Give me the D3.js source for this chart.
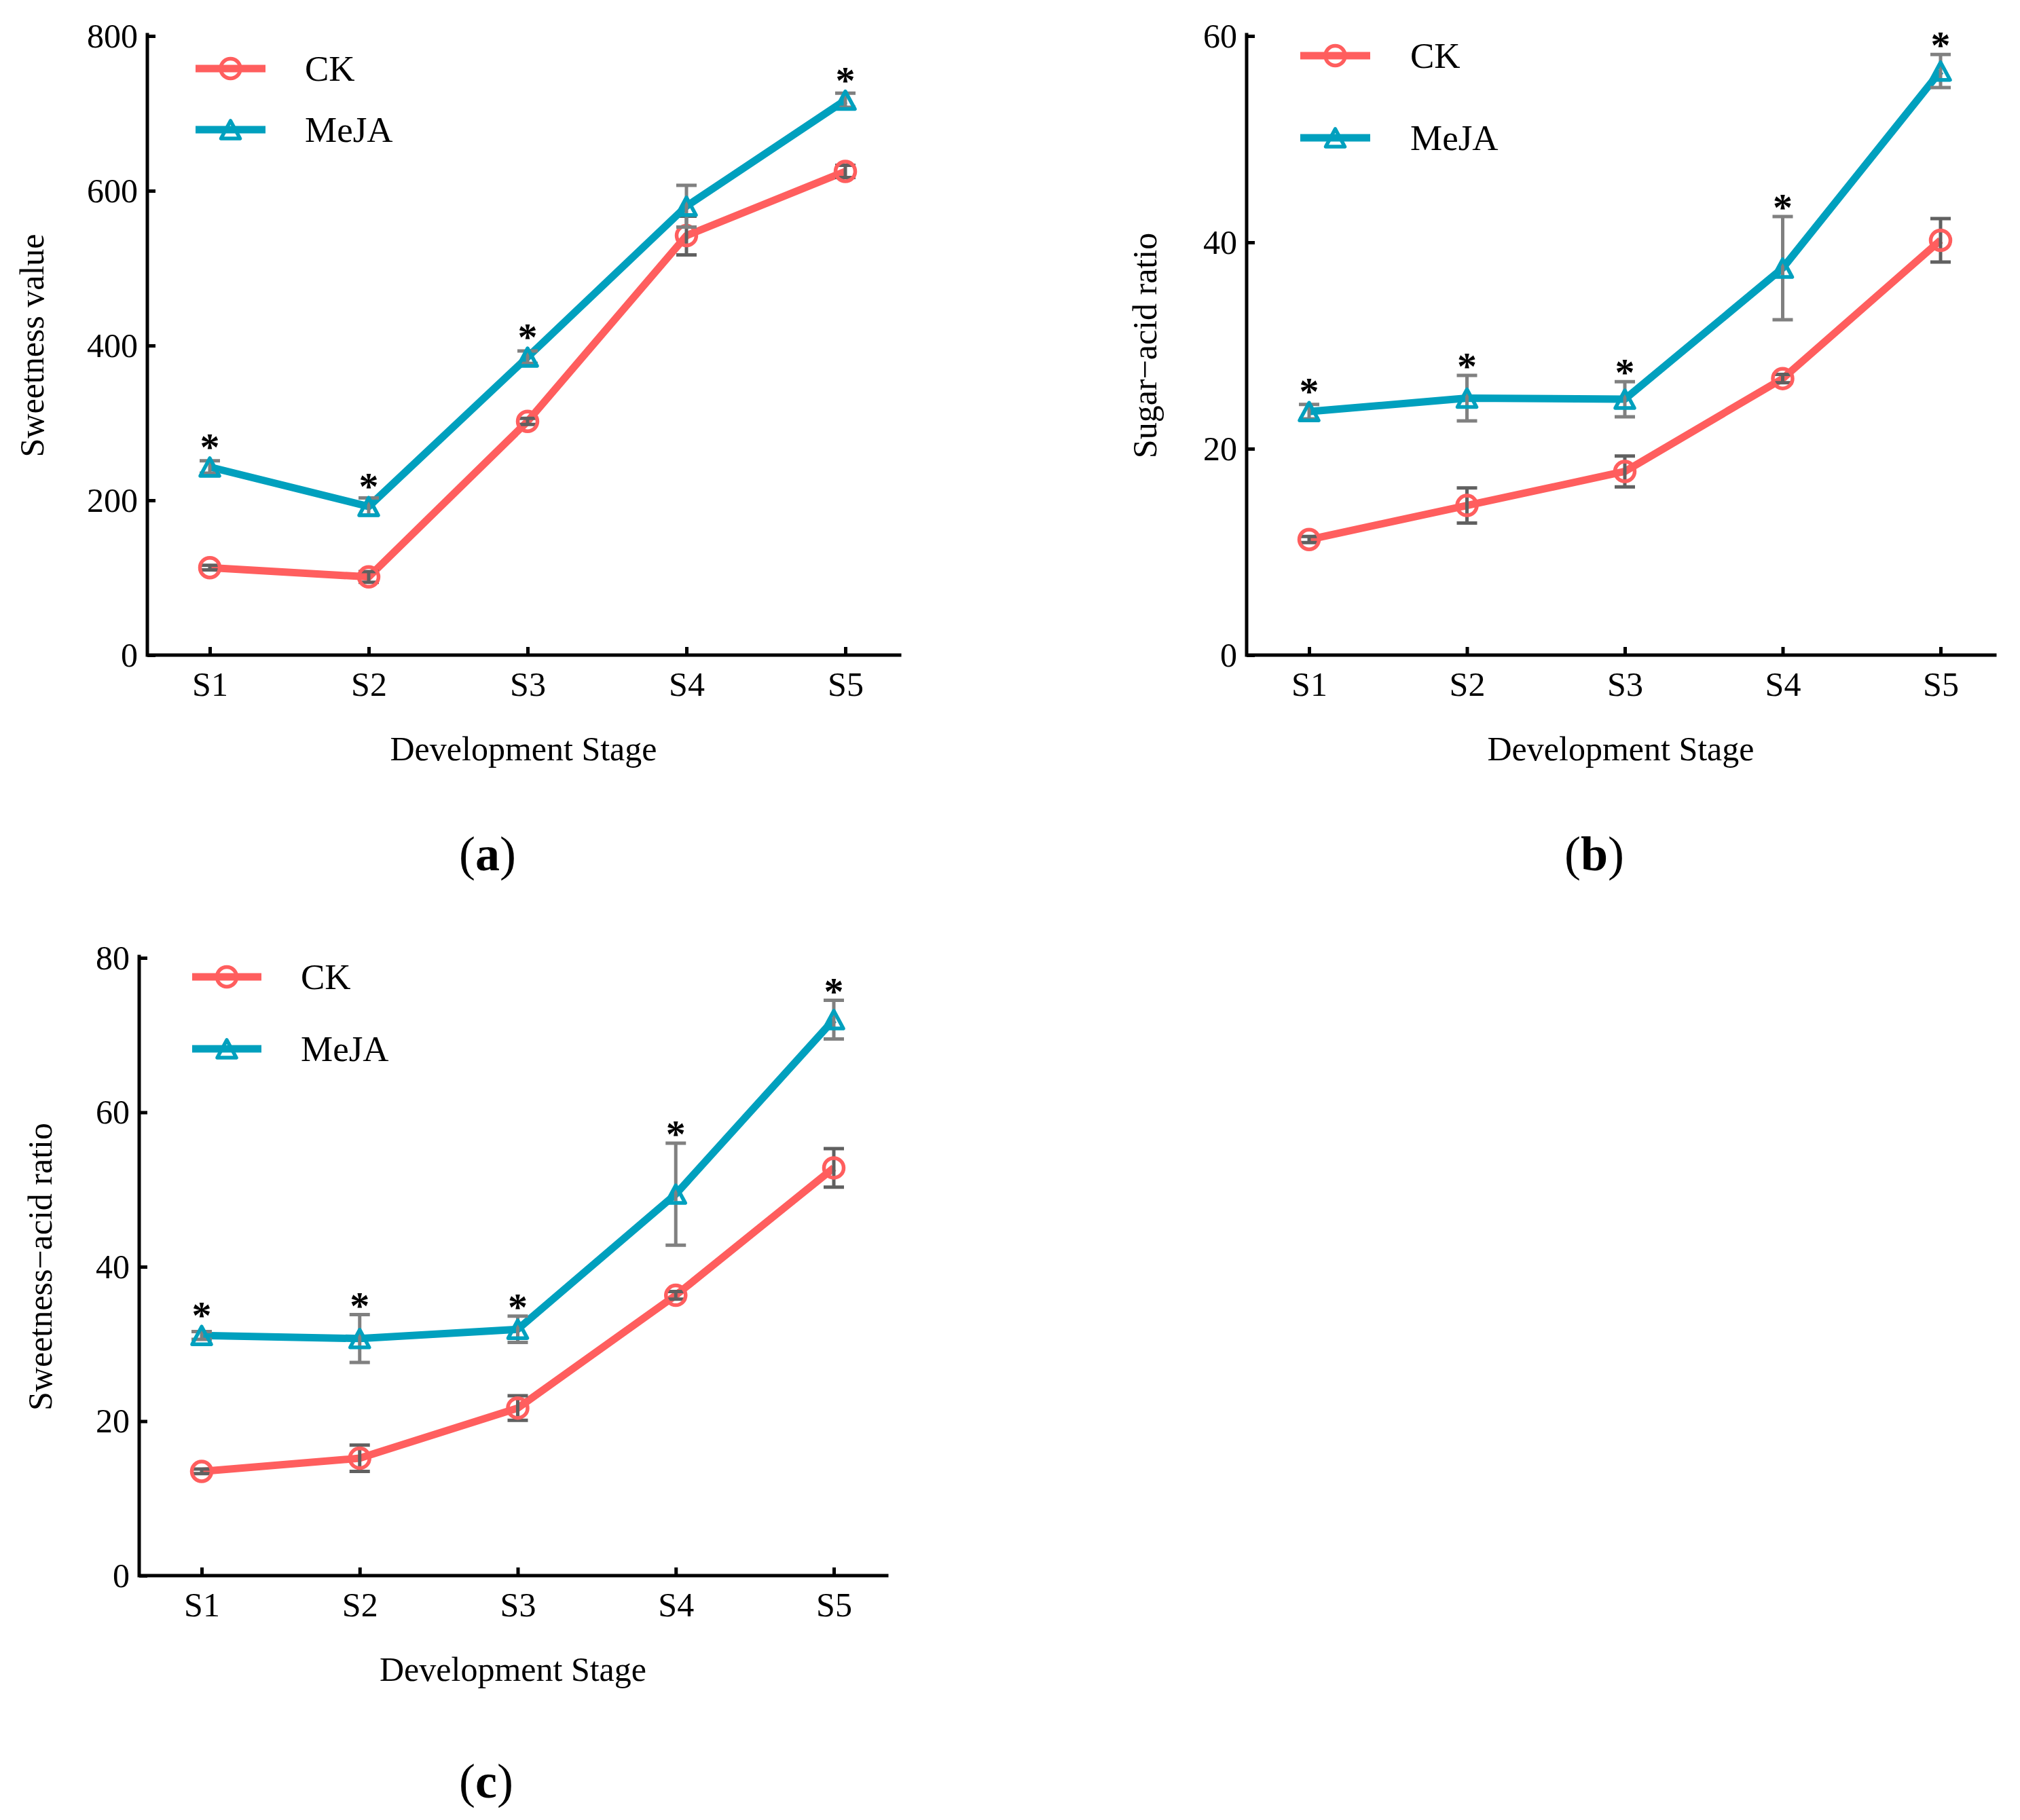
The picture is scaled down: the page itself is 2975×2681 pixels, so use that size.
<!DOCTYPE html>
<html>
<head>
<meta charset="utf-8">
<script src="https://cdn.jsdelivr.net/npm/d3@7"></script>
<style>
  html, body { margin: 0; padding: 0; background: #fff; }
  svg { display: block; }
</style>
</head>
<body>
<svg id="chart" width="2975" height="2681"></svg>
<script>
// 数据
var stages = ['S1', 'S2', 'S3', 'S4', 'S5'];
var seriesNames = ['CK', 'MeJA'];

// (a) Sweetness value
var sweetCK = [113, 101, 302, 542, 625];
var sweetCKErr = [3, 7, 4, 25, 8];
var sweetMeJA = [243, 192, 385, 580, 717];
var sweetMeJAErr = [8, 11, 8, 27, 9];
var sweetSig = [1, 1, 1, 0, 1];
var sweetTicks = [0, 200, 400, 600, 800];

// (b) Sugar-acid ratio
var sugarCK = [11.2, 14.5, 17.8, 26.8, 40.2];
var sugarCKErr = [0.3, 1.7, 1.5, 0.4, 2.1];
var sugarMeJA = [23.6, 24.9, 24.8, 37.5, 56.6];
var sugarMeJAErr = [0.7, 2.2, 1.7, 5.0, 1.6];
var sugarSig = [1, 1, 1, 1, 1];
var sugarTicks = [0, 20, 40, 60];

// (c) Sweetness-acid ratio
var swAcidCK = [13.5, 15.2, 21.7, 36.3, 52.8];
var swAcidCKErr = [0.3, 1.7, 1.6, 0.5, 2.5];
var swAcidMeJA = [31.1, 30.7, 31.9, 49.4, 72.0];
var swAcidMeJAErr = [0.5, 3.1, 1.7, 6.6, 2.5];
var swAcidSig = [1, 1, 1, 1, 1];
var swAcidTicks = [0, 20, 40, 60, 80];

var colors = { CK: '#FF5E5E', MeJA: '#00A0BE' };
var errColors = { CK: '#606060', MeJA: '#808080' };
var serif = '"Liberation Serif", "Times New Roman", serif';

var svg = d3.select('#chart');

// 面板布局
var panels = [
    {
        yTitle: 'Sweetness value', caption: 'a',
        ck: sweetCK, ckErr: sweetCKErr, me: sweetMeJA, meErr: sweetMeJAErr, sig: sweetSig, ticks: sweetTicks,
        left: 217, top: 53, bottom: 965, right: 1325, x1: 309, x5: 1245,
        titleX: 64, legendY: [48, 138], legendX: [71, 174, 232],
        capX: 718, capY: 1282
    },
    {
        yTitle: 'Sugar\u2212acid ratio', caption: 'b',
        ck: sugarCK, ckErr: sugarCKErr, me: sugarMeJA, meErr: sugarMeJAErr, sig: sugarSig, ticks: sugarTicks,
        left: 1836, top: 53, bottom: 965, right: 2938, x1: 1928, x5: 2858,
        titleX: 1703, legendY: [29, 150], legendX: [79, 182, 241],
        capX: 2348, capY: 1282
    },
    {
        yTitle: 'Sweetness\u2212acid ratio', caption: 'c',
        ck: swAcidCK, ckErr: swAcidCKErr, me: swAcidMeJA, meErr: swAcidMeJAErr, sig: swAcidSig, ticks: swAcidTicks,
        left: 205, top: 1411, bottom: 2321, right: 1306, x1: 297, x5: 1228,
        titleX: 76, legendY: [28, 134], legendX: [78, 180, 238],
        capX: 716, capY: 2648
    }
];

// 标记形状
function drawMarker(g, name, x, y) {
    if (name === 'CK') {
        g.append('circle')
            .attr('cx', x).attr('cy', y).attr('r', 14.5)
            .attr('fill', 'none')
            .attr('stroke', colors.CK)
            .attr('stroke-width', 5.5);
    }
    else {
        g.append('path')
            .attr('d', 'M0,-13L14,13L-14,13Z')
            .attr('transform', 'translate(' + x + ',' + y + ')')
            .attr('fill', 'none')
            .attr('stroke', colors.MeJA)
            .attr('stroke-width', 5.5)
            .attr('stroke-linejoin', 'round');
    }
}

function drawPanel(p) {
    var g = svg.append('g').attr('font-family', serif);

    var x = d3.scalePoint().domain(stages).range([p.x1, p.x5]);
    var y = d3.scaleLinear()
        .domain([0, p.ticks[p.ticks.length - 1]])
        .range([p.bottom, p.top]);

    // 坐标轴
    var yAxis = g.append('g')
        .attr('transform', 'translate(' + p.left + ',0)')
        .call(d3.axisLeft(y).tickValues(p.ticks).tickSize(-12).tickPadding(14));
    var xAxis = g.append('g')
        .attr('transform', 'translate(0,' + p.bottom + ')')
        .call(d3.axisBottom(x).tickSize(-12).tickPadding(24));
    [xAxis, yAxis].forEach(function (a) {
        a.select('.domain').remove();
        a.selectAll('.tick line').attr('stroke', '#000').attr('stroke-width', 5);
        a.selectAll('.tick text')
            .attr('fill', '#000')
            .attr('font-size', 50)
            .attr('font-family', serif);
    });
    g.append('path')
        .attr('d', 'M' + p.left + ',' + (p.top - 2) + 'V' + p.bottom + 'H' + p.right)
        .attr('fill', 'none')
        .attr('stroke', '#000')
        .attr('stroke-width', 5)
        .attr('stroke-linecap', 'square');

    // 轴标题
    g.append('text')
        .attr('x', (p.left + p.right) / 2)
        .attr('y', p.bottom + 155)
        .attr('text-anchor', 'middle')
        .attr('font-size', 50)
        .text('Development Stage');
    g.append('text')
        .attr('transform', 'translate(' + p.titleX + ',' + (p.top + p.bottom) / 2 + ') rotate(-90)')
        .attr('text-anchor', 'middle')
        .attr('font-size', 50)
        .text(p.yTitle);

    var series = [
        { name: 'CK', values: p.ck, err: p.ckErr },
        { name: 'MeJA', values: p.me, err: p.meErr }
    ];

    var line = d3.line()
        .x(function (d, i) { return x(stages[i]); })
        .y(function (d) { return y(d); });

    series.forEach(function (s) {
        var sg = g.append('g');
        sg.append('path')
            .attr('d', line(s.values))
            .attr('fill', 'none')
            .attr('stroke', colors[s.name])
            .attr('stroke-width', 11)
            .attr('stroke-linejoin', 'round');

        // 误差棒
        s.values.forEach(function (v, i) {
            var cx = x(stages[i]);
            var y0 = y(v - s.err[i]);
            var y1 = y(v + s.err[i]);
            sg.append('path')
                .attr('d', 'M' + cx + ',' + y0 + 'V' + y1
                    + 'M' + (cx - 15) + ',' + y0 + 'H' + (cx + 15)
                    + 'M' + (cx - 15) + ',' + y1 + 'H' + (cx + 15))
                .attr('fill', 'none')
                .attr('stroke', errColors[s.name])
                .attr('stroke-width', 5);
        });

        s.values.forEach(function (v, i) {
            drawMarker(sg, s.name, x(stages[i]), y(v));
        });
    });

    // 显著性标记
    p.me.forEach(function (v, i) {
        if (!p.sig[i]) {
            return;
        }
        var barTop = y(v + p.meErr[i]);
        var top = Math.min(barTop, y(v) - 16) - 11;
        g.append('text')
            .attr('x', x(stages[i]))
            .attr('y', top + 17)
            .attr('text-anchor', 'middle')
            .attr('font-size', 58)
            .attr('font-weight', 'bold')
            .text('*');
    });

    // 图例
    seriesNames.forEach(function (name, i) {
        var ly = p.top + p.legendY[i];
        var lx0 = p.left + p.legendX[0];
        var lx1 = p.left + p.legendX[1];
        g.append('line')
            .attr('x1', lx0).attr('x2', lx1)
            .attr('y1', ly).attr('y2', ly)
            .attr('stroke', colors[name])
            .attr('stroke-width', 11);
        drawMarker(g, name, (lx0 + lx1) / 2, ly);
        g.append('text')
            .attr('x', p.left + p.legendX[2])
            .attr('y', ly + 18)
            .attr('font-size', 53)
            .text(name);
    });

    // 子图编号
    var cap = g.append('text')
        .attr('x', p.capX)
        .attr('y', p.capY)
        .attr('text-anchor', 'middle')
        .attr('font-size', 72);
    cap.append('tspan').text('(');
    cap.append('tspan').attr('font-weight', 'bold').text(p.caption);
    cap.append('tspan').text(')');
}

panels.forEach(drawPanel);
</script>
</body>
</html>
